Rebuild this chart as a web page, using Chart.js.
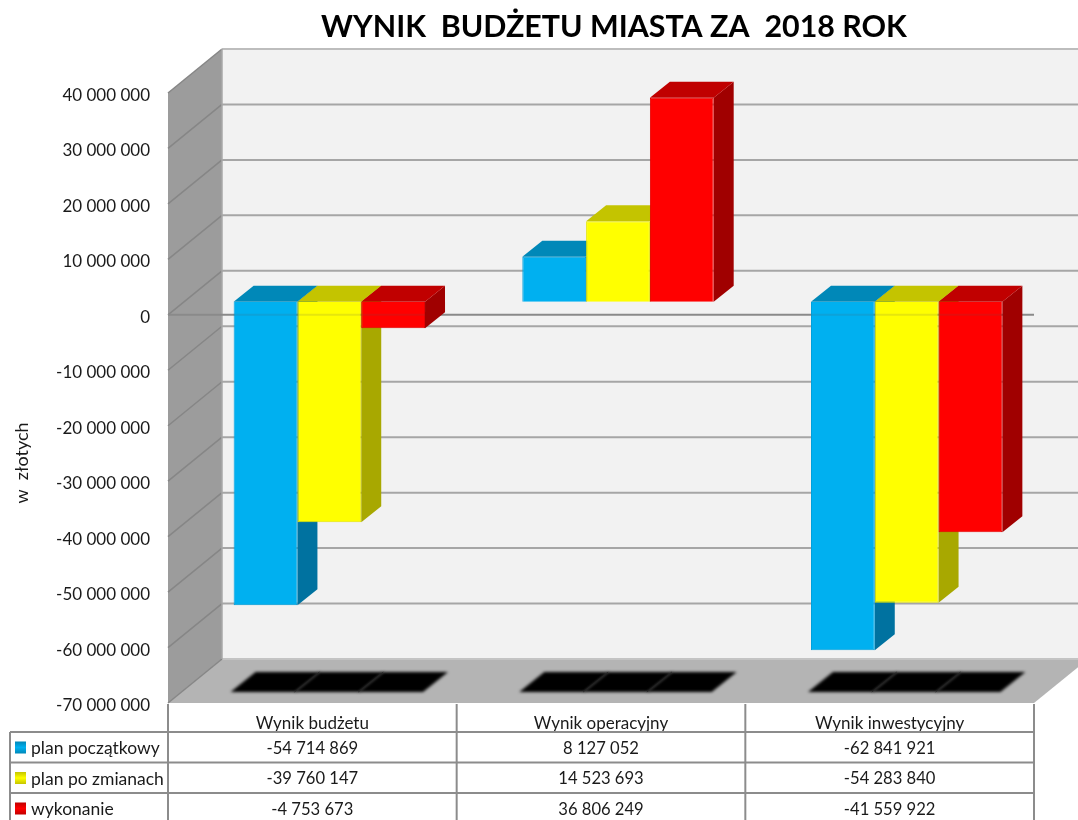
<!DOCTYPE html>
<html lang="pl">
<head>
<meta charset="utf-8">
<style>html,body{margin:0;padding:0;background:#fff;overflow:hidden}canvas{display:block}</style>
<script src="https://cdn.jsdelivr.net/npm/chart.js@4"></script>
</head>
<body>
<canvas id="c" width="1078" height="820"></canvas>
<script>
const categories = ['Wynik budżetu', 'Wynik operacyjny', 'Wynik inwestycyjny'];
const planPoczatkowy = [-54714869, 8127052, -62841921];
const planPoZmianach = [-39760147, 14523693, -54283840];
const wykonanie = [-4753673, 36806249, -41559922];
const seriesNames = ['plan początkowy', 'plan po zmianach', 'wykonanie'];
const chartTitle = 'WYNIK  BUDŻETU MIASTA ZA  2018 ROK';
const yAxisTitle = 'w  złotych';
const yMin = -70000000, yMax = 40000000, yStep = 10000000;

const FONT = 'Lato, Carlito, "Open Sans", sans-serif';
const fmt = v => String(v).replace(/\B(?=(\d{3})+(?!\d))/g, ' ');
const faces = [
  {front:'#00B0F0', top:'#0088B8', side:'#0072A0', edge:'#00A0DC'},
  {front:'#FFFF00', top:'#C4C400', side:'#A8A800', edge:'#E6E600'},
  {front:'#FF0000', top:'#C00000', side:'#A00000', edge:'#E60000'}
];
const BACK = {dx:54, dy:-44};
const BAR = {dx:17, dy:-13};
const DEPTH = {dx:20, dy:-16};

function poly(ctx, pts, fill){
  ctx.beginPath();
  pts.forEach((p,i)=> i?ctx.lineTo(p[0],p[1]):ctx.moveTo(p[0],p[1]));
  ctx.closePath();
  ctx.fillStyle = fill; ctx.fill();
}
function line(ctx, x1,y1,x2,y2,color,w){
  ctx.beginPath(); ctx.moveTo(x1,y1); ctx.lineTo(x2,y2);
  ctx.strokeStyle=color; ctx.lineWidth=w; ctx.stroke();
}

const threeD = {
  id:'threeD',
  afterLayout(chart){
    // title is centred over the plot, not over the page
    chart.titleBlock.left = 194;
    // tick labels sit slightly below their tick position
    const y = chart.scales.y;
    if(!y._shifted){
      const orig = y._computeLabelItems;
      y._computeLabelItems = function(ca){
        const items = orig.call(y,ca);
        items.forEach(i=>{ i.options.translation = [i.options.translation[0], i.options.translation[1]+2.5]; });
        return items;
      };
      y._shifted = true;
    }
  },
  beforeDraw(chart){
    const {ctx, chartArea:a, scales:{y}} = chart;
    const L=a.left,R=a.right,T=a.top,B=a.bottom,dx=BACK.dx,dy=BACK.dy;
    ctx.save();
    ctx.fillStyle='#F2F2F2';
    ctx.fillRect(L+dx,T+dy,R-L,B-T);
    poly(ctx,[[L,T],[L+dx,T+dy],[L+dx,B+dy],[L,B]],'#9C9C9C');
    poly(ctx,[[L,B],[L+dx,B+dy],[R+dx,B+dy],[R,B]],'#B4B4B4');
    y.ticks.forEach(t=>{
      const p=y.getPixelForValue(t.value);
      line(ctx,L+dx,p+dy,R+dx,p+dy,t.value===yMax?'#BDBDBD':(t.value===yMin?'#C4C4C4':'#A6A6A6'),2);
      line(ctx,L,p,L+dx,p+dy,'#868686',1.5);
    });
    line(ctx,L+dx,T+dy,L+dx,B+dy,'#A8A8A8',1.5);
    // soft shadows on the floor
    ctx.filter='blur(1.6px)';
    const yb=B-11, yt=B-31;
    const metas=chart.getSortedVisibleDatasetMetas();
    metas.forEach(m=>{
      m.data.forEach(el=>{
        const l=el.x-el.width/2+BAR.dx, r=el.x+el.width/2+BAR.dx;
        poly(ctx,[[l-3,yb],[l+22,yt],[r+23,yt],[r-2,yb]],'#000');
      });
    });
    ctx.filter='none';
    metas.slice(1).forEach(m=>{
      m.data.forEach(el=>{
        const l=el.x-el.width/2+BAR.dx;
        line(ctx,l-3,yb,l+22,yt,'#242424',0.7);
      });
    });
    const z=y.getPixelForValue(0);
    line(ctx,L,z,R,z,'#8A8A8A',2);
    ctx.restore();
  },
  beforeDatasetsDraw(chart){
    const {ctx, scales:{y}} = chart;
    const metas = chart.getSortedVisibleDatasetMetas();
    metas.forEach((m,si)=>{
      ctx.save();
      ctx.translate(BAR.dx,BAR.dy);
      const c=faces[si];
      m.data.forEach(el=>{
        const l=el.x-el.width/2, r=el.x+el.width/2;
        const t=Math.min(el.y,el.base), b=Math.max(el.y,el.base);
        const d=DEPTH;
        poly(ctx,[[r,t],[r+d.dx,t+d.dy],[r+d.dx,b+d.dy],[r,b]],c.side);
        poly(ctx,[[l,t],[l+d.dx,t+d.dy],[r+d.dx,t+d.dy],[r,t]],c.top);
      });
      m.controller.draw();
      ctx.restore();
    });
    // zero line shows faintly through the bars that cross it
    const z=y.getPixelForValue(0);
    ctx.save();
    metas.forEach(m=>{
      m.data.forEach(el=>{
        const t=Math.min(el.y,el.base)+BAR.dy, b=Math.max(el.y,el.base)+BAR.dy;
        if(t<z && b>z){
          const l=el.x-el.width/2+BAR.dx, r=el.x+el.width/2+BAR.dx;
          line(ctx,l,z,r,z,'rgba(90,90,90,0.15)',2);
        }
      });
    });
    ctx.restore();
    return false;
  },
  afterDraw(chart){
    const {ctx, chartArea:a, scales:{x}} = chart;
    const lc='#8C8C8C', B=a.bottom;
    const rows=[732,762.5,793,823];
    const left=10, col0=a.left;
    const cols=[col0, col0+(a.right-a.left)/3, col0+2*(a.right-a.left)/3, a.right];
    ctx.save();
    rows.forEach(r=>line(ctx,left,r,a.right,r,lc,2));
    line(ctx,left,rows[0],left,820,lc,2);
    cols.forEach(cx=>line(ctx,cx,B+1,cx,820,lc,2));
    const values=[planPoczatkowy,planPoZmianach,wykonanie];
    ctx.textBaseline='middle';
    seriesNames.forEach((name,i)=>{
      const cy=rows[i]+16.5;
      const g=ctx.createLinearGradient(0,cy-7,0,cy+5);
      g.addColorStop(0,faces[i].top); g.addColorStop(0.5,faces[i].front); g.addColorStop(1,faces[i].top);
      ctx.fillStyle=g;
      ctx.fillRect(15,cy-7,11,12);
      ctx.fillStyle='#1A1A1A';
      ctx.textAlign='left';
      ctx.font='17.5px '+FONT;
      ctx.fillText(name,31,cy);
      ctx.textAlign='center';
      ctx.font='16.6px '+FONT;
      values[i].forEach((v,j)=>ctx.fillText(fmt(v),x.getPixelForTick(j),cy));
    });
    ctx.translate(22,463);
    ctx.rotate(-Math.PI/2);
    ctx.textAlign='center';
    ctx.font='18px '+FONT;
    ctx.fillStyle='#1A1A1A';
    ctx.fillText(yAxisTitle,0,0);
    ctx.restore();
  }
};

new Chart(document.getElementById('c'),{
  type:'bar',
  data:{
    labels:categories,
    datasets:[
      {label:seriesNames[0],data:planPoczatkowy,backgroundColor:faces[0].front,borderColor:faces[0].edge,borderWidth:1},
      {label:seriesNames[1],data:planPoZmianach,backgroundColor:faces[1].front,borderColor:faces[1].edge,borderWidth:1},
      {label:seriesNames[2],data:wykonanie,backgroundColor:faces[2].front,borderColor:faces[2].edge,borderWidth:1}
    ]
  },
  plugins:[threeD],
  options:{
    responsive:false,
    animation:false,
    devicePixelRatio:1,
    layout:{padding:{left:0,right:44,top:0,bottom:0}},
    datasets:{bar:{barPercentage:1,categoryPercentage:0.663}},
    plugins:{
      legend:{display:false},
      tooltip:{enabled:false},
      title:{
        display:true,
        text:chartTitle,
        color:'#000',
        font:{family:FONT,size:30.4,weight:'bold',lineHeight:1.2},
        padding:{top:9,bottom:47.5}
      }
    },
    scales:{
      x:{
        grid:{display:false},
        border:{display:false},
        ticks:{color:'#1A1A1A',font:{family:FONT,size:17},padding:2,maxRotation:0},
        afterFit(s){s.height=117;}
      },
      y:{
        min:yMin,max:yMax,
        grid:{display:false,drawTicks:false},
        border:{display:false},
        ticks:{stepSize:yStep,color:'#1A1A1A',font:{family:FONT,size:17},padding:18,callback:v=>fmt(v)},
        afterFit(s){s.width=168;}
      }
    }
  }
});
</script>
</body>
</html>
